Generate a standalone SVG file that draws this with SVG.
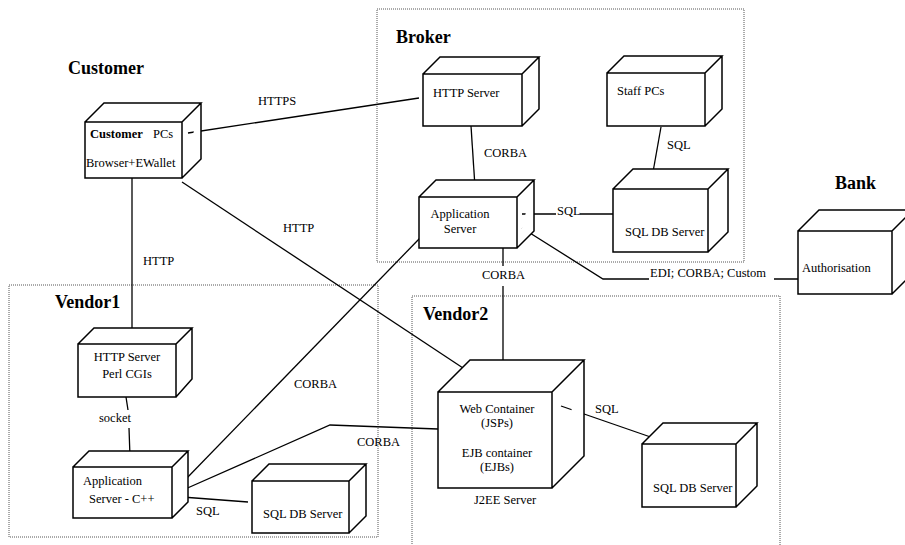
<svg xmlns="http://www.w3.org/2000/svg" width="905" height="545" viewBox="0 0 905 545">
  <style>
    .zone { fill: none; stroke: #555; stroke-width: 1; stroke-dasharray: 1 1; }
    .box { fill: #fff; stroke: #000; stroke-width: 1.5; stroke-linejoin: miter; }
    .edge { fill: none; stroke: #000; stroke-width: 1.3; }
    .t { font-family: "Liberation Serif", "Times New Roman", serif; font-size: 12.5px; fill: #000; }
    .c { text-anchor: middle; }
    .h { font-family: "Liberation Serif", "Times New Roman", serif; font-size: 18px; font-weight: bold; fill: #000; }
    .b { font-weight: bold; }
  </style>

  <rect width="905" height="545" fill="#fff"/>

  <!-- deployment zones -->
  <g id="zones">
    <rect class="zone" x="377" y="9" width="367" height="253"/>
    <rect class="zone" x="9" y="285" width="369" height="252"/>
    <rect class="zone" x="412" y="296" width="368" height="262"/>
  </g>

  <!-- zone headings -->
  <g id="headings">
    <text class="h" x="68" y="74">Customer</text>
    <text class="h" x="396" y="43">Broker</text>
    <text class="h" x="835" y="189">Bank</text>
    <text class="h" x="55" y="308">Vendor1</text>
    <text class="h" x="423" y="320">Vendor2</text>
  </g>

  <!-- connectors -->
  <g id="connectors">
    <path class="edge" d="M188,133 L419,98"/>
    <path class="edge" d="M132,178 V330"/>
    <path class="edge" d="M182,182 L463,368"/>
    <path class="edge" d="M471,126 L475,187"/>
    <path class="edge" d="M661,127 L653,172"/>
    <path class="edge" d="M522,214 H556 M580,214 H613"/>
    <path class="edge" d="M522,228 L603,279 H649 M774,279 H799"/>
    <path class="edge" d="M503,248 V266 M503,286 V360"/>
    <path class="edge" d="M126,397 L128,410 M129,428 L130,457"/>
    <path class="edge" d="M182,497 L248,502"/>
    <path class="edge" d="M185,480 L420,238"/>
    <path class="edge" d="M183,490 L330,425 L438,429"/>
    <path class="edge" d="M561,406 L665,442"/>
  </g>

  <!-- connector labels -->
  <g id="connector-labels">
    <text class="t" x="258" y="105">HTTPS</text>
    <text class="t" x="143" y="265">HTTP</text>
    <text class="t" x="283" y="232">HTTP</text>
    <text class="t" x="484" y="157">CORBA</text>
    <text class="t" x="667" y="149">SQL</text>
    <text class="t" x="557" y="215">SQL</text>
    <text class="t" x="650" y="277">EDI; CORBA; Custom</text>
    <text class="t" x="482" y="279">CORBA</text>
    <text class="t" x="294" y="388">CORBA</text>
    <text class="t" x="357" y="446">CORBA</text>
    <text class="t" x="99" y="422">socket</text>
    <text class="t" x="196" y="515">SQL</text>
    <text class="t" x="595" y="413">SQL</text>
  </g>

  <!-- nodes -->
  <g id="customer-pcs">
    <path class="box" d="M85,122 H182 V178 H85 Z M85,122 L104,103 H201 L182,122 M201,103 V159 L182,178"/>
    <text class="t" x="90" y="138"><tspan class="b">Customer</tspan><tspan x="153">PCs</tspan></text>
    <text class="t" x="86" y="167">Browser+EWallet</text>
  </g>

  <g id="broker-http-server">
    <path class="box" d="M423,74 H522 V126 H423 Z M423,74 L440,57 H539 L522,74 M539,57 V109 L522,126"/>
    <text class="t" x="433" y="97">HTTP Server</text>
  </g>

  <g id="broker-app-server">
    <path class="box" d="M419,197 H517 V248 H419 Z M419,197 L436,180 H534 L517,197 M534,180 V231 L517,248"/>
    <text class="t c" x="460" y="218">Application</text>
    <text class="t c" x="460" y="233">Server</text>
  </g>

  <g id="staff-pcs">
    <path class="box" d="M607,73 H705 V126 H607 Z M607,73 L624,56 H722 L705,73 M722,56 V109 L705,126"/>
    <text class="t" x="617" y="95">Staff PCs</text>
  </g>

  <g id="broker-sql-db">
    <path class="box" d="M613,189 H708 V252 H613 Z M613,189 L633,169 H728 L708,189 M728,169 V232 L708,252"/>
    <text class="t" x="625" y="236">SQL DB Server</text>
  </g>

  <g id="bank-authorisation">
    <path class="box" d="M798,231 H892 V294 H798 Z M798,231 L819,210 H913 L892,231 M913,210 V273 L892,294"/>
    <text class="t" x="802" y="272">Authorisation</text>
  </g>

  <g id="vendor1-http-server">
    <path class="box" d="M78,344 H176 V397 H78 Z M78,344 L94,328 H192 L176,344 M192,328 V379 L176,397"/>
    <text class="t c" x="127" y="361">HTTP Server</text>
    <text class="t c" x="127" y="378">Perl CGIs</text>
  </g>

  <g id="vendor1-app-server">
    <path class="box" d="M73,467 H172 V518 H73 Z M73,467 L89,451 H188 L172,467 M188,451 V502 L172,518"/>
    <text class="t" x="83" y="485">Application</text>
    <text class="t" x="89" y="503">Server - C++</text>
  </g>

  <g id="vendor1-sql-db">
    <path class="box" d="M252,481 H349 V533 H252 Z M252,481 L269,464 H366 L349,481 M366,464 V516 L349,533"/>
    <text class="t" x="263" y="518">SQL DB Server</text>
  </g>

  <g id="vendor2-j2ee-server">
    <path class="box" d="M438,392 H552 V488 H438 Z M438,392 L470,360 H584 L552,392 M584,360 V456 L552,488"/>
    <text class="t c" x="497" y="413">Web Container</text>
    <text class="t c" x="497" y="427">(JSPs)</text>
    <text class="t c" x="497" y="457">EJB container</text>
    <text class="t c" x="497" y="471">(EJBs)</text>
    <text class="t" x="474" y="504">J2EE Server</text>
  </g>

  <g id="vendor2-sql-db">
    <path class="box" d="M642,444 H736 V507 H642 Z M642,444 L663,423 H757 L736,444 M757,423 V486 L736,507"/>
    <text class="t" x="653" y="492">SQL DB Server</text>
  </g>
</svg>
